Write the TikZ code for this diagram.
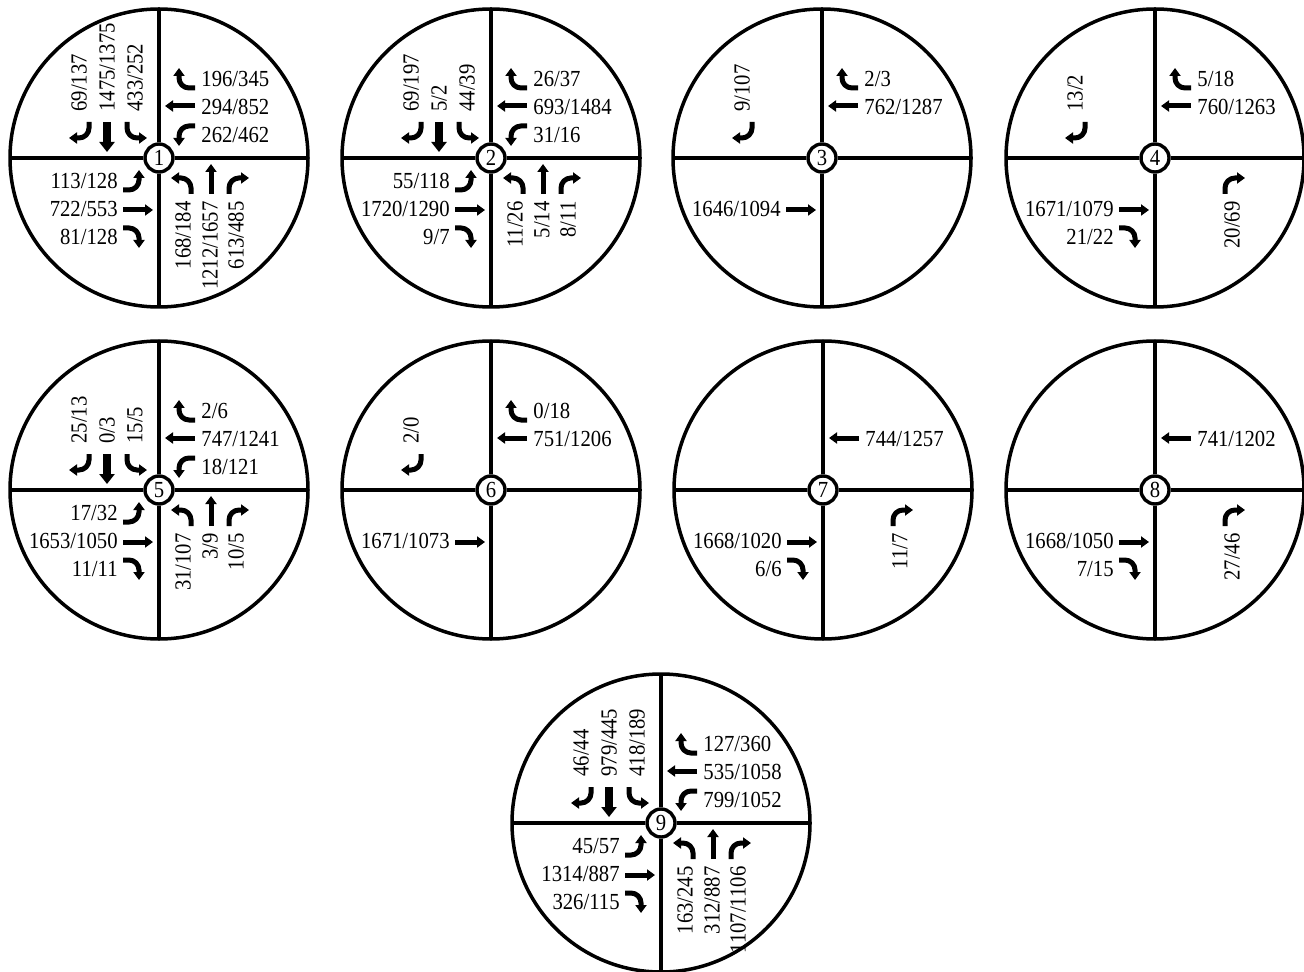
\documentclass[tikz,border=0pt]{standalone}
\usepackage{fontspec}
\setmainfont[FakeStretch=0.9]{Liberation Serif}
\usetikzlibrary{arrows.meta}
\tikzset{
  ringline/.style={line width=1.75pt},
  hub/.style={circle,draw,line width=1.7pt,fill=white,minimum size=14pt,inner sep=0pt,font=\fontsize{11.5}{13}\selectfont},
  lab/.style={inner sep=0pt,font=\fontsize{11.5}{13}\selectfont},
  mv/.style={line width=2.5pt,-{Triangle[length=4pt,width=5.5pt]}},
  mvthick/.style={line width=3.6pt,-{Triangle[length=5pt,width=7.5pt]}},
  sbR/.style={mv}, sbT/.style={mvthick}, sbL/.style={mv},
}
\newcommand\pathR[1]{\draw[#1] (-70,36) -- (-70,30) arc[start angle=0,end angle=-90,radius=10] -- (-90,20);}
\newcommand\pathT[1]{\draw[#1] (-52,36) -- (-52,6);}
\newcommand\pathL[1]{\draw[#1] (-32,36) -- (-32,30) arc[start angle=180,end angle=270,radius=10] -- (-12,20);}
\def\sbxR{-80}\def\sbxT{-52}\def\sbxL{-24}
\def\wbyR{79}\def\wbyT{51}\def\wbyL{23}
\def\ebyR{-79}\def\ebyT{-51}\def\ebyL{-23}
\def\nbxR{77}\def\nbxT{51}\def\nbxL{24}
\newcommand\isect[4]{%
  \node[hub] (c#1) at (#2,-#3) {#4};
  \coordinate (c#1n) at ({#2},{-#3+149});
  \coordinate (c#1s) at ({#2},{-#3-149});
  \coordinate (c#1e) at ({#2+149},{-#3});
  \coordinate (c#1w) at ({#2-149},{-#3});
  \draw[ringline] (c#1.center) circle[radius=149];
  \draw[ringline] (c#1) -- (c#1n);
  \draw[ringline] (c#1) -- (c#1s);
  \draw[ringline] (c#1) -- (c#1e);
  \draw[ringline] (c#1) -- (c#1w);
}
\newcommand\SB[3]{\begin{scope}[shift={(c#1.center)}]
  \node[lab,rotate=90,anchor=west] (c#1sb#2) at (\csname sbx#2\endcsname,46) {#3};
  \csname path#2\endcsname{sb#2}
\end{scope}}
\newcommand\WB[3]{\begin{scope}[shift={(c#1.center)}]
  \node[lab,anchor=west] (c#1wb#2) at (42,\csname wby#2\endcsname) {#3};
  \begin{scope}[rotate=-90]\csname path#2\endcsname{mv}\end{scope}
\end{scope}}
\newcommand\EB[3]{\begin{scope}[shift={(c#1.center)}]
  \node[lab,anchor=east] (c#1eb#2) at (-41,\csname eby#2\endcsname) {#3};
  \begin{scope}[rotate=90]\csname path#2\endcsname{mv}\end{scope}
\end{scope}}
\newcommand\NB[3]{\begin{scope}[shift={(c#1.center)}]
  \node[lab,rotate=90,anchor=east] (c#1nb#2) at (\csname nbx#2\endcsname,-43) {#3};
  \begin{scope}[rotate=180]\csname path#2\endcsname{mv}\end{scope}
\end{scope}}
\begin{document}
\begin{tikzpicture}[x=0.5pt,y=0.5pt]
\useasboundingbox (0,0) rectangle (1304,-972);
\isect{1}{159}{158}{1}
\isect{2}{491}{158}{2}
\isect{3}{822}{158}{3}
\isect{4}{1155}{158}{4}
\isect{5}{159}{490}{5}
\isect{6}{491}{490}{6}
\isect{7}{823}{490}{7}
\isect{8}{1155}{490}{8}
\isect{9}{661}{823}{9}
% 1
\SB{1}{R}{69/137}\SB{1}{T}{1475/1375}\SB{1}{L}{433/252}
\WB{1}{R}{196/345}\WB{1}{T}{294/852}\WB{1}{L}{262/462}
\EB{1}{L}{113/128}\EB{1}{T}{722/553}\EB{1}{R}{81/128}
\NB{1}{L}{168/184}\NB{1}{T}{1212/1657}\NB{1}{R}{613/485}
% 2
\SB{2}{R}{69/197}\SB{2}{T}{5/2}\SB{2}{L}{44/39}
\WB{2}{R}{26/37}\WB{2}{T}{693/1484}\WB{2}{L}{31/16}
\EB{2}{L}{55/118}\EB{2}{T}{1720/1290}\EB{2}{R}{9/7}
\NB{2}{L}{11/26}\NB{2}{T}{5/14}\NB{2}{R}{8/11}
% 3
\SB{3}{R}{9/107}
\WB{3}{R}{2/3}\WB{3}{T}{762/1287}
\EB{3}{T}{1646/1094}
% 4
\SB{4}{R}{13/2}
\WB{4}{R}{5/18}\WB{4}{T}{760/1263}
\EB{4}{T}{1671/1079}\EB{4}{R}{21/22}
\NB{4}{R}{20/69}
% 5
\SB{5}{R}{25/13}\SB{5}{T}{0/3}\SB{5}{L}{15/5}
\WB{5}{R}{2/6}\WB{5}{T}{747/1241}\WB{5}{L}{18/121}
\EB{5}{L}{17/32}\EB{5}{T}{1653/1050}\EB{5}{R}{11/11}
\NB{5}{L}{31/107}\NB{5}{T}{3/9}\NB{5}{R}{10/5}
% 6
\SB{6}{R}{2/0}
\WB{6}{R}{0/18}\WB{6}{T}{751/1206}
\EB{6}{T}{1671/1073}
% 7
\WB{7}{T}{744/1257}
\EB{7}{T}{1668/1020}\EB{7}{R}{6/6}
\NB{7}{R}{11/7}
% 8
\WB{8}{T}{741/1202}
\EB{8}{T}{1668/1050}\EB{8}{R}{7/15}
\NB{8}{R}{27/46}
% 9
\SB{9}{R}{46/44}\SB{9}{T}{979/445}\SB{9}{L}{418/189}
\WB{9}{R}{127/360}\WB{9}{T}{535/1058}\WB{9}{L}{799/1052}
\EB{9}{L}{45/57}\EB{9}{T}{1314/887}\EB{9}{R}{326/115}
\NB{9}{L}{163/245}\NB{9}{T}{312/887}\NB{9}{R}{1107/1106}
\end{tikzpicture}
\end{document}
